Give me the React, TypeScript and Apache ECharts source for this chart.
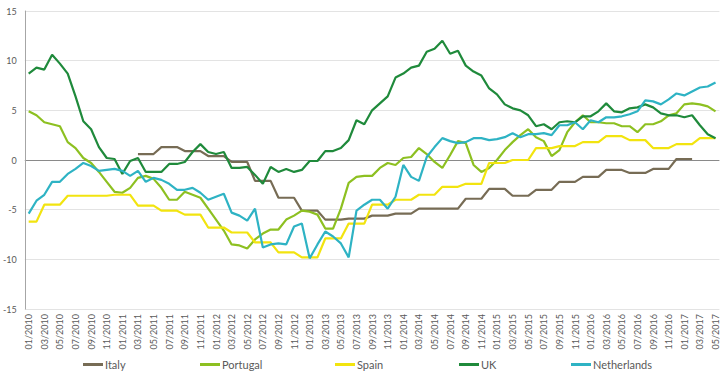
import React, { useEffect, useRef } from "react";
import * as echarts from "echarts";

const categories: string[] = [
  "01/2010","02/2010","03/2010","04/2010","05/2010","06/2010","07/2010","08/2010","09/2010","10/2010","11/2010","12/2010",
  "01/2011","02/2011","03/2011","04/2011","05/2011","06/2011","07/2011","08/2011","09/2011","10/2011","11/2011","12/2011",
  "01/2012","02/2012","03/2012","04/2012","05/2012","06/2012","07/2012","08/2012","09/2012","10/2012","11/2012","12/2012",
  "01/2013","02/2013","03/2013","04/2013","05/2013","06/2013","07/2013","08/2013","09/2013","10/2013","11/2013","12/2013",
  "01/2014","02/2014","03/2014","04/2014","05/2014","06/2014","07/2014","08/2014","09/2014","10/2014","11/2014","12/2014",
  "01/2015","02/2015","03/2015","04/2015","05/2015","06/2015","07/2015","08/2015","09/2015","10/2015","11/2015","12/2015",
  "01/2016","02/2016","03/2016","04/2016","05/2016","06/2016","07/2016","08/2016","09/2016","10/2016","11/2016","12/2016",
  "01/2017","02/2017","03/2017","04/2017","05/2017",
];

const italy: (number | null)[] = [
  null, null, null, null, null, null, null, null, null, null,
  null, null, null, null, 0.6, 0.6, 0.6, 1.3, 1.3, 1.3,
  0.9, 0.9, 0.9, 0.4, 0.4, 0.4, -0.2, -0.2, -0.2, -2.1,
  -2.1, -2.1, -3.8, -3.8, -3.8, -5.1, -5.1, -5.1, -6.0, -6.0,
  -6.0, -5.9, -5.9, -5.9, -5.6, -5.6, -5.6, -5.4, -5.4, -5.4,
  -4.9, -4.9, -4.9, -4.9, -4.9, -4.9, -3.9, -3.9, -3.9, -2.9,
  -2.9, -2.9, -3.6, -3.6, -3.6, -3.0, -3.0, -3.0, -2.2, -2.2,
  -2.2, -1.7, -1.7, -1.7, -1.0, -1.0, -1.0, -1.3, -1.3, -1.3,
  -0.9, -0.9, -0.9, 0.1, 0.1, 0.1, null, null, null,
];

const portugal: number[] = [
  4.9, 4.5, 3.8, 3.6, 3.4, 1.8, 1.2, 0.2, -0.3, -1.2,
  -2.2, -3.2, -3.3, -2.8, -1.8, -1.6, -1.9, -2.8, -4.0, -4.0,
  -3.2, -3.5, -3.8, -4.9, -6.0, -7.1, -8.5, -8.6, -8.9, -8.0,
  -7.4, -7.0, -7.0, -6.0, -5.6, -5.1, -5.2, -5.5, -6.9, -6.9,
  -4.9, -2.3, -1.7, -1.6, -1.6, -0.8, -0.3, -0.5, 0.2, 0.3,
  1.2, 0.6, -0.2, -0.8, 0.5, 1.9, 1.7, -0.5, -1.2, -0.8,
  0.0, 1.0, 1.8, 2.5, 3.1, 2.3, 1.9, 0.4, 1.0, 2.8,
  3.8, 4.5, 3.8, 3.8, 3.7, 3.7, 3.4, 3.4, 2.8, 3.6,
  3.6, 3.9, 4.5, 4.7, 5.6, 5.7, 5.6, 5.4, 4.9,
];

const spain: number[] = [
  -6.2, -6.2, -4.5, -4.5, -4.5, -3.6, -3.6, -3.6, -3.6, -3.6,
  -3.6, -3.5, -3.5, -3.5, -4.6, -4.6, -4.6, -5.1, -5.1, -5.1,
  -5.5, -5.5, -5.5, -6.8, -6.8, -6.8, -7.3, -7.3, -7.3, -8.3,
  -8.3, -8.3, -9.3, -9.3, -9.3, -9.8, -9.8, -9.8, -7.9, -7.9,
  -7.9, -6.4, -6.4, -6.4, -4.5, -4.5, -4.5, -4.0, -4.0, -4.0,
  -3.5, -3.5, -3.5, -2.7, -2.7, -2.7, -2.4, -2.4, -2.4, -0.3,
  -0.3, -0.3, 0.0, 0.0, 0.0, 1.2, 1.2, 1.2, 1.4, 1.4,
  1.4, 1.8, 1.8, 1.8, 2.4, 2.4, 2.4, 2.0, 2.0, 2.0,
  1.2, 1.2, 1.2, 1.6, 1.6, 1.6, 2.2, 2.2, 2.2,
];

const uk: number[] = [
  8.7, 9.3, 9.1, 10.6, 9.7, 8.7, 6.4, 3.9, 3.1, 1.3,
  0.2, 0.1, -1.4, -0.1, 0.2, -1.2, -1.2, -1.2, -0.4, -0.4,
  -0.2, 0.8, 1.6, 0.8, 0.6, 0.8, -0.8, -0.8, -0.7, -1.5,
  -2.4, -0.7, -1.2, -0.9, -1.2, -1.0, -0.1, -0.1, 0.9, 0.9,
  1.2, 2.0, 4.0, 3.6, 5.0, 5.7, 6.4, 8.3, 8.7, 9.3,
  9.5, 10.9, 11.2, 12.0, 10.7, 11.0, 9.5, 8.9, 8.5, 7.2,
  6.6, 5.6, 5.2, 5.0, 4.5, 3.4, 3.6, 3.1, 3.8, 3.9,
  3.8, 4.4, 4.4, 4.9, 5.7, 4.9, 4.8, 5.2, 5.3, 5.6,
  5.3, 4.7, 4.5, 4.5, 4.3, 4.5, 3.5, 2.6, 2.2,
];

const netherlands: number[] = [
  -5.4, -4.1, -3.5, -2.2, -2.2, -1.4, -0.9, -0.3, -0.6, -1.1,
  -1.0, -0.9, -1.1, -1.6, -1.1, -2.2, -1.8, -2.0, -2.4, -3.0,
  -3.0, -2.8, -3.3, -4.0, -3.7, -3.4, -5.3, -5.6, -6.1, -4.9,
  -8.8, -8.5, -8.4, -8.5, -6.7, -6.4, -9.9, -8.5, -7.2, -7.7,
  -8.4, -9.8, -5.1, -4.5, -4.0, -4.0, -4.9, -3.7, -0.5, -1.7,
  -2.1, 0.3, 1.3, 2.2, 1.9, 1.7, 1.8, 2.2, 2.2, 2.0,
  2.1, 2.3, 2.7, 2.3, 2.6, 2.6, 2.7, 2.5, 3.5, 3.5,
  3.8, 3.1, 4.0, 3.8, 4.3, 4.3, 4.4, 4.6, 4.9, 6.0,
  5.9, 5.6, 6.1, 6.7, 6.5, 6.9, 7.3, 7.4, 7.8,
];

const seriesNames = ["Italy", "Portugal", "Spain", "UK", "Netherlands"];
const seriesData = [italy, portugal, spain, uk, netherlands];
const seriesColors = ["#776C55", "#8DC021", "#F2E40F", "#1F8A3B", "#2EB3C4"];
const legendLeft = [83, 200, 335, 459, 571];

const FONT = "Lato, 'Liberation Sans', sans-serif";

export default function App() {
  const ref = useRef<HTMLDivElement>(null);
  useEffect(() => {
    if (!ref.current) return;
    const chart = echarts.init(ref.current, undefined, { renderer: "svg" });
    const gridColors = ["#e3e3e3", "#e3e3e3", "#e3e3e3", "#8a8a8a", "#e3e3e3", "#e3e3e3", "#e3e3e3"];
    chart.setOption({
      animation: false,
      backgroundColor: "#ffffff",
      textStyle: { fontFamily: FONT },
      grid: { left: 23, right: 0, top: 11, bottom: 77, containLabel: false },
      legend: seriesNames.map((n, i) => ({
        data: [n],
        left: legendLeft[i],
        top: 359,
        icon: "rect",
        itemWidth: 20,
        itemHeight: 3,
        itemGap: 0,
        padding: 0,
        selectedMode: false,
        textStyle: { color: "#595959", fontSize: 11, fontFamily: FONT, padding: [0, 0, 0, -3] },
      })),
      xAxis: {
        type: "category",
        data: categories,
        boundaryGap: true,
        axisLine: { show: false },
        axisTick: { show: false },
        axisLabel: {
          interval: 1,
          rotate: 90,
          color: "#595959",
          fontSize: 9,
          fontFamily: FONT,
          margin: 5,
        },
        splitLine: { show: false },
      },
      yAxis: {
        type: "value",
        min: -15,
        max: 15,
        interval: 5,
        axisLine: { show: true, lineStyle: { color: "#a6a6a6", width: 1 } },
        axisTick: { show: false },
        axisLabel: { color: "#595959", fontSize: 9, fontFamily: FONT, margin: 8 },
        splitLine: { show: true, lineStyle: { color: gridColors, width: 1 } },
      },
      series: seriesNames.map((n, i) => ({
        name: n,
        type: "line",
        data: seriesData[i],
        showSymbol: false,
        symbol: "none",
        smooth: false,
        connectNulls: false,
        itemStyle: { color: seriesColors[i] },
        lineStyle: { color: seriesColors[i], width: 2.2 },
      })),
    });
    return () => chart.dispose();
  }, []);
  return (
    <div
      ref={ref}
      style={{ position: "fixed", left: 0, top: 0, width: 720, height: 386, background: "#fff" }}
    />
  );
}
